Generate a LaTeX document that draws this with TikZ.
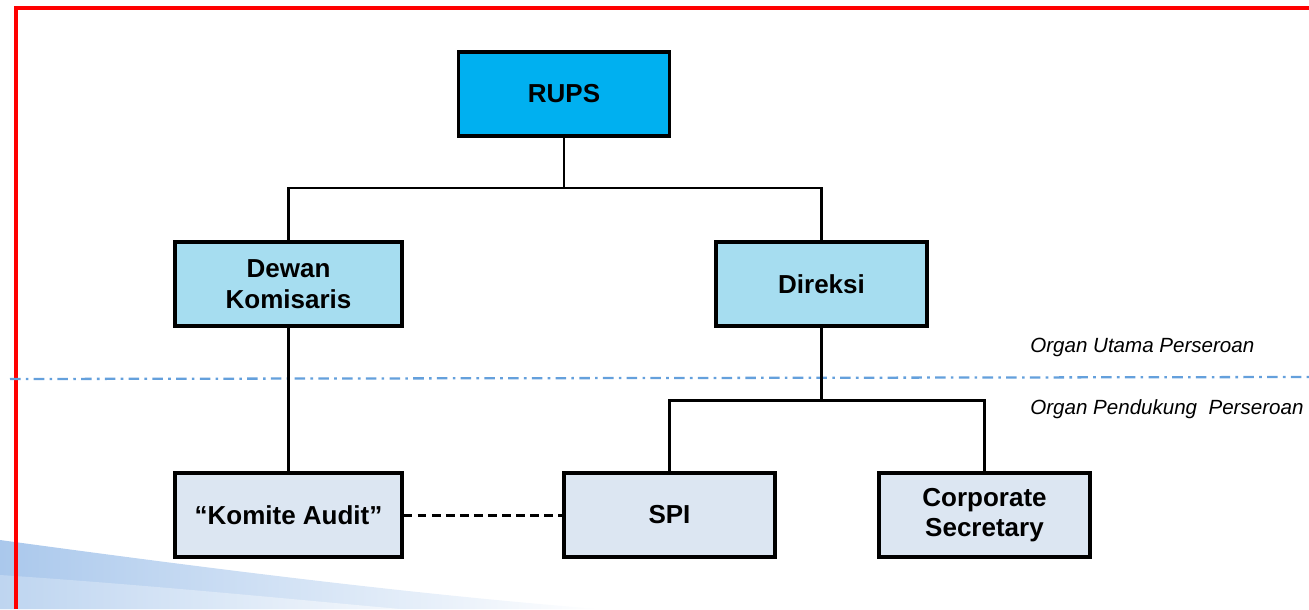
\documentclass[tikz,border=0pt]{standalone}
\usepackage{fontspec}
\setmainfont{Liberation Sans}
\definecolor{rupsblue}{RGB}{0,176,240}
\definecolor{organblue}{RGB}{166,221,240}
\definecolor{pendukung}{RGB}{220,230,242}
\definecolor{garis}{RGB}{100,160,220}
\definecolor{swoosh}{RGB}{170,200,236}
\tikzset{
  orgbox/.style={draw,line width=1.9pt,minimum width=4.22cm,minimum height=1.68cm,
    align=center,font=\fontsize{14.8}{17.5}\selectfont\bfseries},
  hubung/.style={line width=1.7pt},
  keterangan/.style={anchor=west,inner sep=0pt,font=\fontsize{11.7}{14}\selectfont\itshape}
}
\begin{document}
\begin{tikzpicture}[x=0.02cm,y=-0.02cm]
\useasboundingbox (0,0) rectangle (1309,609);

\shade[left color=swoosh,right color=white]
    (0,540) .. controls (220,570) and (420,595) .. (600,609) -- (0,609) -- cycle;
\shade[left color=swoosh!60,right color=white,opacity=0.6]
    (0,575) .. controls (150,585) and (300,600) .. (400,609) -- (0,609) -- cycle;

\draw[red,line width=2.3pt] (16,609)--(16,8)--(1309,8);

\draw[garis,line width=1.3pt,dash pattern=on 6pt off 3pt on 1.5pt off 3pt] (10,379)--(1309,377);
\node[keterangan] (utama) at (1030,347) {Organ Utama Perseroan};
\node[keterangan] (pendukung) at (1030,409) {Organ Pendukung\ \ Perseroan};

\node[orgbox,fill=rupsblue] (rups) at (564,94) {RUPS};
\node[orgbox,fill=organblue,minimum width=4.54cm] (dekom) at (288.5,284) {Dewan\\Komisaris};
\node[orgbox,fill=organblue] (direksi) at (821.5,284) {Direksi};
\node[orgbox,fill=pendukung,minimum width=4.54cm] (komite) at (288.5,515) {``Komite Audit''};
\node[orgbox,fill=pendukung] (spi) at (669.5,515) {SPI};
\node[orgbox,fill=pendukung] (corsec) at (984.5,515) {Corporate\\Secretary};

\coordinate (atas) at (564,188);
\coordinate (bawah) at (821.5,400);

\draw[hubung] (rups.south)--(atas);
\draw[hubung] (dekom.north)|-(atas);
\draw[hubung] (direksi.north)|-(atas);

\draw[hubung] (dekom.south)--(komite.north);

\draw[hubung] (direksi.south)--(bawah);
\draw[hubung] (spi.north)|-(bawah);
\draw[hubung] (corsec.north)|-(bawah);

\draw[hubung,dash pattern=on 5pt off 3pt] (komite.east)--(spi.west);
\end{tikzpicture}
\end{document}
